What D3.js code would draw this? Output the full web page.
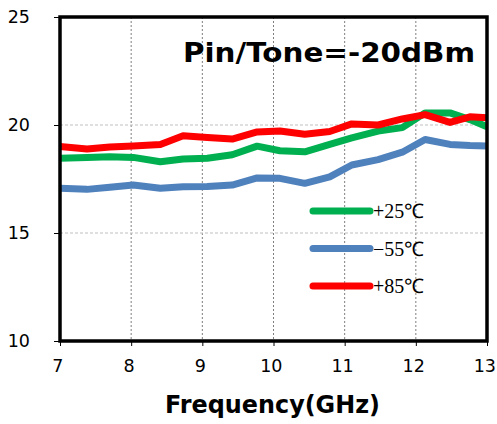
<!DOCTYPE html>
<html lang="en">
<head>
<meta charset="UTF-8">
<title>Gain vs Frequency</title>
<script src="https://cdn.jsdelivr.net/npm/d3@7"></script>
<style>
  body { margin: 0; background: #fff; }
</style>
</head>
<body>
<svg width="497" height="424" id="chart"></svg>
<script>
const freq = [7.0, 7.38, 7.70, 8.03, 8.41, 8.73, 9.07, 9.42, 9.77, 10.09, 10.44, 10.79, 11.10, 11.47, 11.81, 12.13, 12.48, 12.76, 13.0];
const gain25 = [18.46, 18.49, 18.53, 18.5, 18.3, 18.43, 18.46, 18.62, 19.02, 18.81, 18.76, 19.1, 19.4, 19.72, 19.88, 20.56, 20.56, 20.25, 19.92];
const gainM55 = [17.07, 17.02, 17.12, 17.22, 17.07, 17.14, 17.15, 17.22, 17.55, 17.53, 17.3, 17.6, 18.15, 18.4, 18.74, 19.33, 19.1, 19.05, 19.03];
const gain85 = [19.0, 18.89, 18.98, 19.03, 19.1, 19.5, 19.42, 19.35, 19.68, 19.72, 19.57, 19.7, 20.05, 20.0, 20.28, 20.48, 20.12, 20.38, 20.34];
const xTicks = [7, 8, 9, 10, 11, 12, 13];
const yTicks = [10, 15, 20, 25];

const series = [
  {name: '+25℃', values: gain25, color: '#00b050'},
  {name: '\u221255℃', values: gainM55, color: '#4f81bd'},
  {name: '+85℃', values: gain85, color: '#ff0000'}
];

const svg = d3.select('#chart');
const margin = {top: 17, left: 60, right: 10, bottom: 83};
const innerWidth = 497 - margin.left - margin.right;
const innerHeight = 424 - margin.top - margin.bottom;

const x = d3.scaleLinear().domain([7, 13]).range([0, innerWidth]);
const y = d3.scaleLinear().domain([10, 25]).range([innerHeight, 0]);

const g = svg.append('g').attr('transform', `translate(${margin.left},${margin.top})`);

// grid
g.selectAll('.vgrid').data(xTicks.slice(1, -1)).join('line')
  .attr('x1', d => x(d)).attr('x2', d => x(d)).attr('y1', 0).attr('y2', innerHeight)
  .attr('stroke', '#7f7f7f').attr('stroke-width', 1).attr('stroke-dasharray', '2,2');
g.selectAll('.hgrid').data(yTicks.slice(1, -1)).join('line')
  .attr('x1', 0).attr('x2', innerWidth).attr('y1', d => y(d)).attr('y2', d => y(d))
  .attr('stroke', '#bfbfbf').attr('stroke-width', 1).attr('stroke-dasharray', '3,2');

// axes
const xAxis = d3.axisBottom(x).tickValues(xTicks).tickFormat(d3.format('d')).tickSize(5).tickPadding(14);
const yAxis = d3.axisLeft(y).tickValues(yTicks).tickFormat(d3.format('d')).tickSize(6).tickPadding(24);
const gx = g.append('g').attr('transform', `translate(0,${innerHeight})`).call(xAxis);
const gy = g.append('g').call(yAxis);
[gx, gy].forEach(a => {
  a.select('.domain').remove();
  a.selectAll('.tick line').attr('stroke', '#000').attr('stroke-width', 1);
  a.selectAll('.tick text').attr('font-family', 'DejaVu Sans').attr('font-size', '17.5px').attr('fill', '#000');
});
gx.selectAll('.tick text').attr('dx', '-0.15em');

// lines
const line = d3.line().x((d, i) => x(freq[i])).y(d => y(d));
g.selectAll('.series').data(series).join('path')
  .attr('d', d => line(d.values))
  .attr('fill', 'none').attr('stroke', d => d.color)
  .attr('stroke-width', 7).attr('stroke-linejoin', 'round');

// frame
g.append('rect').attr('width', innerWidth).attr('height', innerHeight)
  .attr('fill', 'none').attr('stroke', '#000').attr('stroke-width', 3.5);

// title
g.append('text').text('Pin/Tone=-20dBm')
  .attr('x', 123).attr('y', 45)
  .attr('textLength', 292).attr('lengthAdjust', 'spacingAndGlyphs')
  .attr('font-family', 'DejaVu Sans').attr('font-weight', 'bold').attr('font-size', '27px');

// legend
const leg = g.selectAll('.leg').data(series).join('g')
  .attr('transform', (d, i) => `translate(${313 - margin.left},${194 + i * 37.5})`);
leg.append('line').attr('x1', 0).attr('x2', 57)
  .attr('stroke', d => d.color).attr('stroke-width', 7).attr('stroke-linecap', 'round');
leg.append('text').text(d => d.name).attr('x', 60).attr('y', 7)
  .attr('font-family', 'Liberation Serif').attr('font-size', '20px');

// x title
svg.append('text').text('Frequency(GHz)')
  .attr('x', 165).attr('y', 413)
  .attr('textLength', 215).attr('lengthAdjust', 'spacingAndGlyphs')
  .attr('font-family', 'DejaVu Sans').attr('font-weight', 'bold').attr('font-size', '24px');
</script>
</body>
</html>
